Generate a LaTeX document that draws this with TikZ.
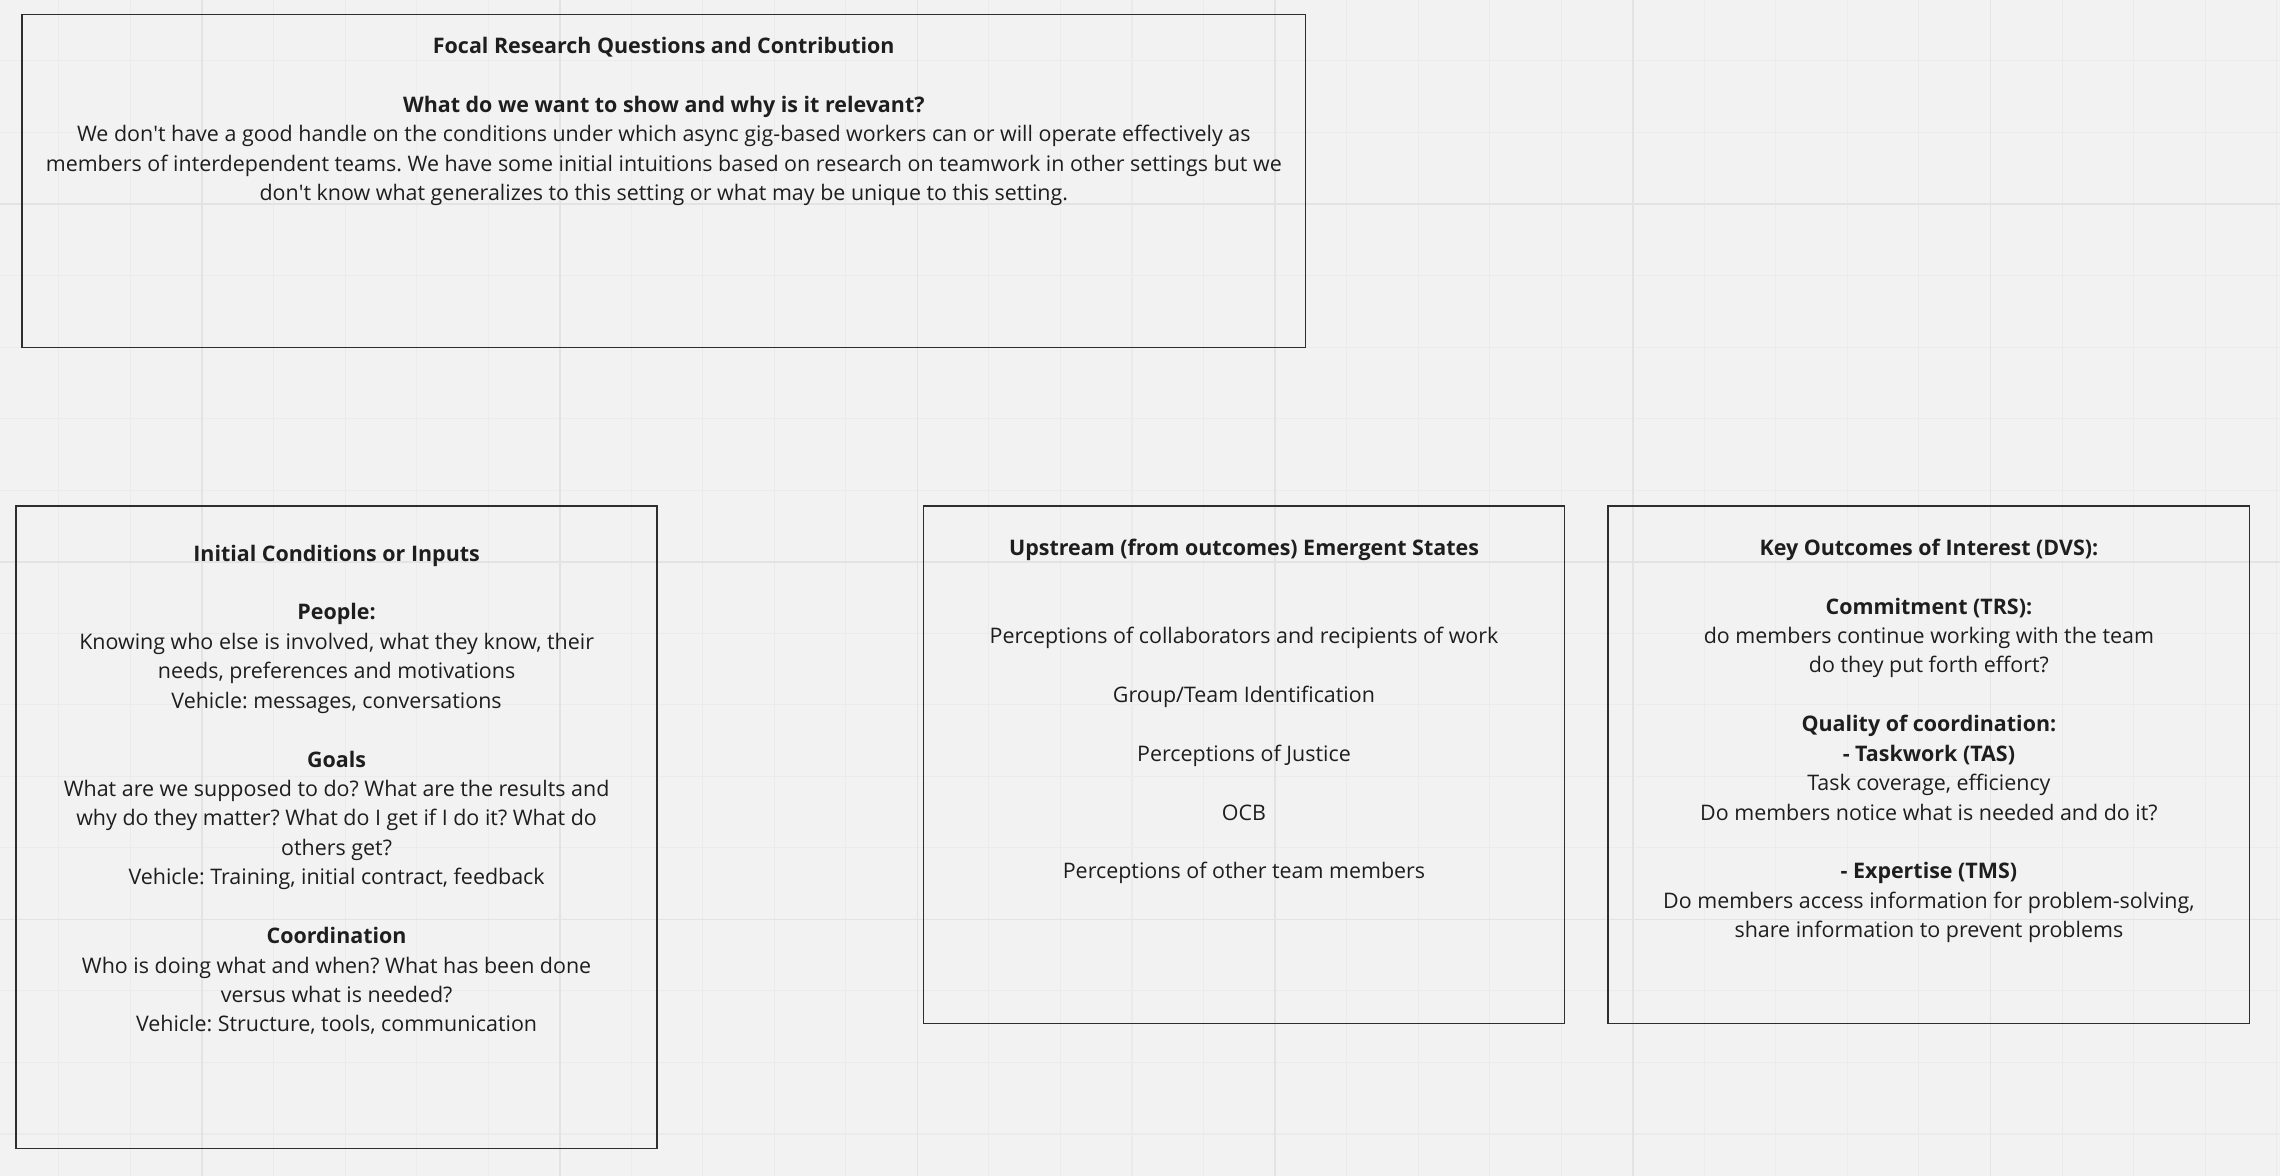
\documentclass[tikz,border=0pt]{standalone}
\usepackage{fontspec}
\setmainfont{Open Sans}
\usetikzlibrary{positioning}

\definecolor{boardbg}{HTML}{F2F2F2}
\definecolor{gridminor}{HTML}{EBEBEB}
\definecolor{gridmajor}{HTML}{E3E3E3}
\definecolor{framecol}{HTML}{2E2E2E}
\definecolor{inkcol}{HTML}{1E1E1E}

\begin{document}
\begin{tikzpicture}[
  x=0.02cm, y=-0.02cm,
  panel/.style={rectangle, draw=framecol, line width=0.9pt, inner sep=0pt},
  paneltext/.style={align=center, inner sep=0pt, text=inkcol, font=\fontsize{12.2}{16.75}\selectfont\frenchspacing},
  minorline/.style={gridminor, line width=0.6pt},
  majorline/.style={gridmajor, line width=1pt}
]
  % Board and grid
  \fill[boardbg] (0,0) rectangle (2280,1176);
  \useasboundingbox (0,0) rectangle (2280,1176);
  \foreach \gx in {0,...,31} \draw[minorline] (58.9+\gx*71.54,0) -- ++(0,1176);
  \foreach \gy in {0,...,15} \draw[minorline] (0,60.9+\gy*71.54) -- ++(2280,0);
  \foreach \gx in {0,...,5} \draw[majorline] (202+\gx*357.7,0) -- ++(0,1176);
  \foreach \gy in {0,...,2} \draw[majorline] (0,204+\gy*357.7) -- ++(2280,0);

  % Panels
  \node[panel, minimum width=25.68cm, minimum height=6.66cm] (focal) at (663.8,181) {};
  \node[panel, minimum width=12.82cm, minimum height=12.85cm] (inputs) at (336.6,827.4) {};
  \node[panel, minimum width=12.83cm, minimum height=10.35cm] (states) at (1244,764.9) {};
  \node[panel, minimum width=12.83cm, minimum height=10.35cm] (outcomes) at (1928.9,764.9) {};

  % Texts
  \node[paneltext, below=0.46cm of focal.north] (focaltext) {%
    \textbf{Focal Research Questions and Contribution}\\[16.75pt]
    \textbf{What do we want to show and why is it relevant?}\\
    We don\textquotesingle t have a good handle on the conditions under which async gig-based workers can or will operate effectively as\\
    members of interdependent teams. We have some initial intuitions based on research on teamwork in other settings but we\\
    don\textquotesingle t know what generalizes to this setting or what may be unique to this setting.};
  \node[paneltext, below=0.78cm of inputs.north] (inputstext) {%
    \textbf{Initial Conditions or Inputs}\\[16.75pt]
    \textbf{People:}\\
    Knowing who else is involved, what they know, their\\
    needs, preferences and motivations\\
    Vehicle: messages, conversations\\[16.75pt]
    \textbf{Goals}\\
    What are we supposed to do? What are the results and\\
    why do they matter? What do I get if I do it? What do\\
    others get?\\
    Vehicle: Training, initial contract, feedback\\[16.75pt]
    \textbf{Coordination}\\
    Who is doing what and when? What has been done\\
    versus what is needed?\\
    Vehicle: Structure, tools, communication};
  \node[paneltext, below=0.66cm of states.north] (statestext) {%
    \textbf{Upstream (from outcomes) Emergent States}\\[33.5pt]
    Perceptions of collaborators and recipients of work\\[16.75pt]
    Group/Team Identification\\[16.75pt]
    Perceptions of Justice\\[16.75pt]
    OCB\\[16.75pt]
    Perceptions of other team members};
  \node[paneltext, below=0.66cm of outcomes.north] (outcomestext) {%
    \textbf{Key Outcomes of Interest (DVS):}\\[16.75pt]
    \textbf{Commitment (TRS):}\\
    do members continue working with the team\\
    do they put forth effort?\\[16.75pt]
    \textbf{Quality of coordination:}\\
    \textbf{- Taskwork (TAS)}\\
    Task coverage, efficiency\\
    Do members notice what is needed and do it?\\[16.75pt]
    \textbf{- Expertise (TMS)}\\
    Do members access information for problem-solving,\\
    share information to prevent problems};
\end{tikzpicture}
\end{document}
